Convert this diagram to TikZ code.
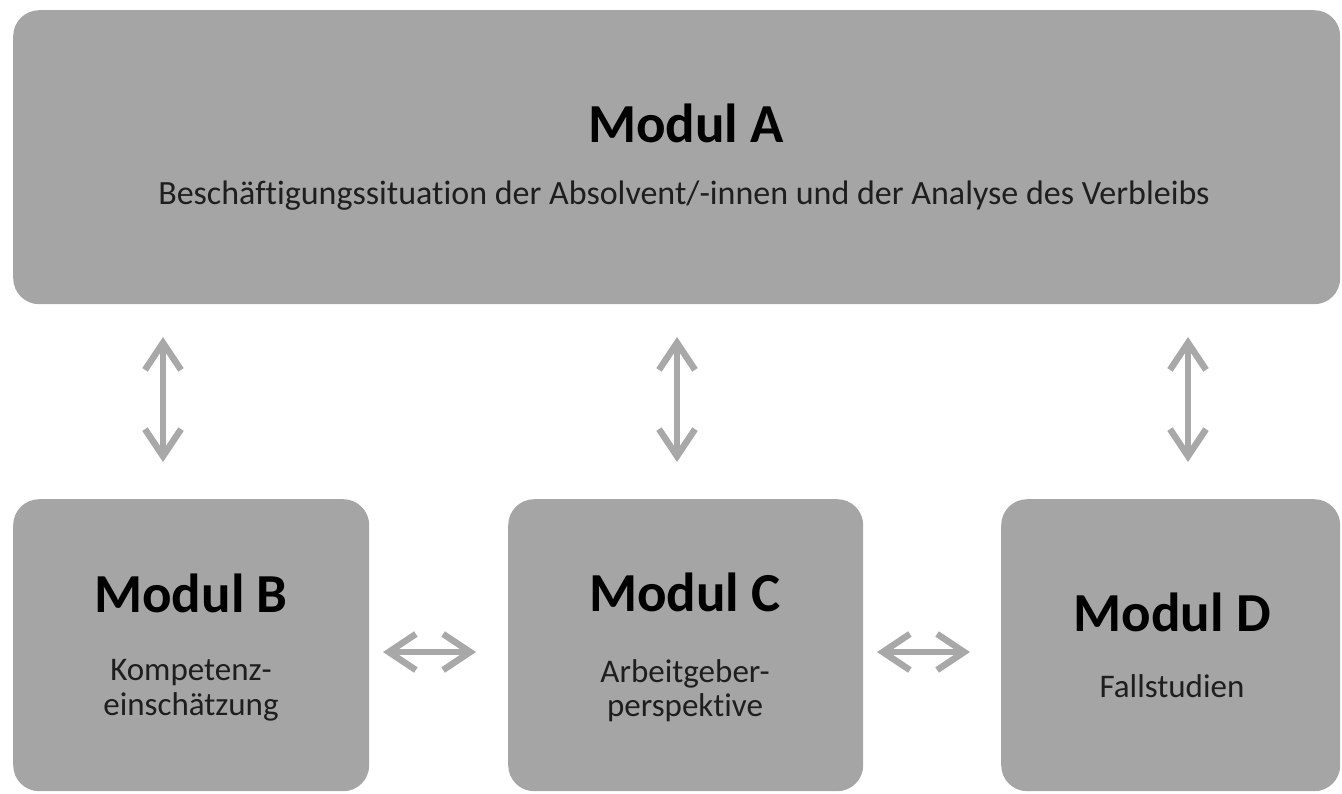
\documentclass[tikz,border=0pt]{standalone}
\usepackage{fontspec}
\setmainfont{Carlito}[Ligatures={NoCommon}]
\usetikzlibrary{arrows.meta}
\definecolor{boxgray}{HTML}{A5A5A5}
\definecolor{arrgray}{HTML}{A8A8A8}
\definecolor{txtdark}{HTML}{1E1E1E}
\begin{document}
\begin{tikzpicture}[x=1pt,y=-1pt,
  modbox/.style={fill=boxgray, draw=none, rounded corners=26pt, inner sep=0pt, anchor=north west},
  ttl/.style={font=\fontsize{55}{60}\selectfont\bfseries, anchor=base, inner sep=0pt, text=black},
  subtxt/.style={font=\fontsize{33}{35}\selectfont, anchor=base, inner sep=0pt, text=txtdark},
  biarrow/.style={draw=arrgray, line width=6.5pt,
    {Straight Barb[length=27pt,width=36pt]}-{Straight Barb[length=27pt,width=36pt]}}]
\useasboundingbox (0,0) rectangle (1342,793);

% boxes
\node[modbox, minimum width=1327pt, minimum height=294pt] (A) at (13,10) {};
\node[modbox, minimum width=356pt, minimum height=292pt] (B) at (13,499) {};
\node[modbox, minimum width=355pt, minimum height=292pt] (C) at (508,499) {};
\node[modbox, minimum width=339pt, minimum height=292pt] (D) at (1001,499) {};

% texts
\node[ttl] (Atitle) at (686,142) {Modul A};
\node[subtxt, font=\fontsize{34}{36}\selectfont] (Asub) at (684,204) {Besch\"aftigungssituation der Absolvent/-innen und der Analyse des Verbleibs};

\node[ttl] (Btitle) at (191,612) {Modul B};
\node[subtxt] (Bsub1) at (191,680) {Kompetenz-};
\node[subtxt] (Bsub2) at (191,715) {einsch\"atzung};

\node[ttl] (Ctitle) at (685,611) {Modul C};
\node[subtxt] (Csub1) at (685,682) {Arbeitgeber-};
\node[subtxt] (Csub2) at (685,716) {perspektive};

\node[ttl] (Dtitle) at (1172,631) {Modul D};
\node[subtxt] (Dsub1) at (1172,697) {Fallstudien};

% arrow end points
\coordinate (v1t) at (163,337);
\coordinate (v1b) at (163,462);
\coordinate (v2t) at (677,337);
\coordinate (v2b) at (677,462);
\coordinate (v3t) at (1188,337);
\coordinate (v3b) at (1188,462);
\coordinate (h1l) at (383,652);
\coordinate (h1r) at (476,652);
\coordinate (h2l) at (877,652);
\coordinate (h2r) at (970,652);

\draw[biarrow] (v1t) -- (v1b);
\draw[biarrow] (v2t) -- (v2b);
\draw[biarrow] (v3t) -- (v3b);
\draw[biarrow] (h1l) -- (h1r);
\draw[biarrow] (h2l) -- (h2r);
\end{tikzpicture}
\end{document}
